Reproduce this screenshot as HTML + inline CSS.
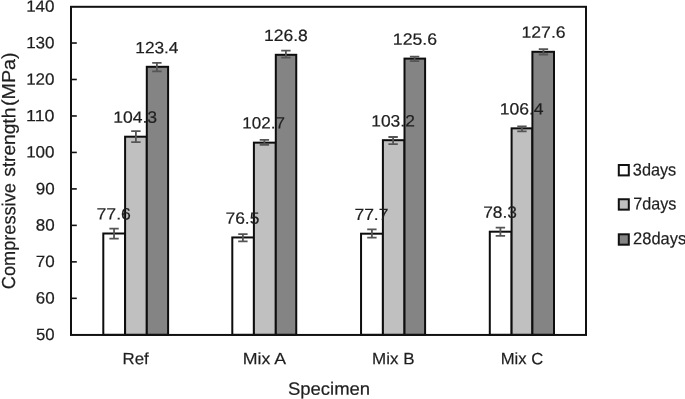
<!DOCTYPE html>
<html><head><meta charset="utf-8"><title>Compressive strength</title>
<style>
html,body{margin:0;padding:0;background:#fff;}
body{width:685px;height:399px;overflow:hidden;}
svg{display:block;}
text{font-family:"Liberation Sans", Arial, sans-serif;fill:#1e1e1e;stroke:#1e1e1e;stroke-width:0.2px;}
</style></head><body>
<svg width="685" height="399" viewBox="0 0 685 399">
<rect width="685" height="399" fill="#fff"/>
<rect x="103.30" y="233.50" width="21.80" height="101.30" fill="#ffffff" stroke="#0d0d0d" stroke-width="2.0"/>
<rect x="125.10" y="136.70" width="21.70" height="198.10" fill="#c0c0c0" stroke="#0d0d0d" stroke-width="2.0"/>
<rect x="146.80" y="66.80" width="21.30" height="268.00" fill="#848484" stroke="#0d0d0d" stroke-width="2.0"/>
<rect x="232.30" y="237.45" width="21.60" height="97.35" fill="#ffffff" stroke="#0d0d0d" stroke-width="2.0"/>
<rect x="253.90" y="142.65" width="21.90" height="192.15" fill="#c0c0c0" stroke="#0d0d0d" stroke-width="2.0"/>
<rect x="275.80" y="54.80" width="20.45" height="280.00" fill="#848484" stroke="#0d0d0d" stroke-width="2.0"/>
<rect x="361.05" y="233.70" width="21.85" height="101.10" fill="#ffffff" stroke="#0d0d0d" stroke-width="2.0"/>
<rect x="382.90" y="140.20" width="21.60" height="194.60" fill="#c0c0c0" stroke="#0d0d0d" stroke-width="2.0"/>
<rect x="404.50" y="58.60" width="20.60" height="276.20" fill="#848484" stroke="#0d0d0d" stroke-width="2.0"/>
<rect x="489.80" y="231.70" width="21.80" height="103.10" fill="#ffffff" stroke="#0d0d0d" stroke-width="2.0"/>
<rect x="511.60" y="128.35" width="20.80" height="206.45" fill="#c0c0c0" stroke="#0d0d0d" stroke-width="2.0"/>
<rect x="532.40" y="51.80" width="21.60" height="283.00" fill="#848484" stroke="#0d0d0d" stroke-width="2.0"/>
<path d="M114.05 228.65V238.70M109.35 228.65H118.75M109.35 238.70H118.75" fill="none" stroke="#555" stroke-width="1.8"/>
<path d="M135.90 131.10V142.05M131.20 131.10H140.60M131.20 142.05H140.60" fill="none" stroke="#555" stroke-width="1.8"/>
<path d="M156.90 62.80V71.30M152.20 62.80H161.60M152.20 71.30H161.60" fill="none" stroke="#555" stroke-width="1.8"/>
<path d="M242.90 234.15V241.40M238.20 234.15H247.60M238.20 241.40H247.60" fill="none" stroke="#555" stroke-width="1.8"/>
<path d="M264.40 139.90V144.95M259.70 139.90H269.10M259.70 144.95H269.10" fill="none" stroke="#555" stroke-width="1.8"/>
<path d="M285.90 50.70V57.60M281.20 50.70H290.60M281.20 57.60H290.60" fill="none" stroke="#555" stroke-width="1.8"/>
<path d="M371.90 229.30V237.70M367.20 229.30H376.60M367.20 237.70H376.60" fill="none" stroke="#555" stroke-width="1.8"/>
<path d="M393.10 137.00V144.20M388.40 137.00H397.80M388.40 144.20H397.80" fill="none" stroke="#555" stroke-width="1.8"/>
<path d="M414.60 56.65V61.20M409.90 56.65H419.30M409.90 61.20H419.30" fill="none" stroke="#555" stroke-width="1.8"/>
<path d="M500.40 227.60V235.80M495.70 227.60H505.10M495.70 235.80H505.10" fill="none" stroke="#555" stroke-width="1.8"/>
<path d="M521.95 126.40V131.40M517.25 126.40H526.65M517.25 131.40H526.65" fill="none" stroke="#555" stroke-width="1.8"/>
<path d="M543.45 49.10V54.50M538.75 49.10H548.15M538.75 54.50H548.15" fill="none" stroke="#555" stroke-width="1.8"/>
<rect x="71.0" y="6.8" width="515.0" height="328.15" fill="none" stroke="#111" stroke-width="2"/>
<line x1="71.0" y1="43.02" x2="76.8" y2="43.02" stroke="#111" stroke-width="1.6"/>
<line x1="71.0" y1="79.49" x2="76.8" y2="79.49" stroke="#111" stroke-width="1.6"/>
<line x1="71.0" y1="115.97" x2="76.8" y2="115.97" stroke="#111" stroke-width="1.6"/>
<line x1="71.0" y1="152.44" x2="76.8" y2="152.44" stroke="#111" stroke-width="1.6"/>
<line x1="71.0" y1="188.91" x2="76.8" y2="188.91" stroke="#111" stroke-width="1.6"/>
<line x1="71.0" y1="225.38" x2="76.8" y2="225.38" stroke="#111" stroke-width="1.6"/>
<line x1="71.0" y1="261.86" x2="76.8" y2="261.86" stroke="#111" stroke-width="1.6"/>
<line x1="71.0" y1="298.33" x2="76.8" y2="298.33" stroke="#111" stroke-width="1.6"/>
<text transform="translate(96.52 219.60) rotate(0.03) scale(1.0817 1)" font-size="16.35">77.6</text>
<text transform="translate(113.17 122.70) rotate(0.03) scale(1.0742 1)" font-size="16.35">104.3</text>
<text transform="translate(135.29 53.25) rotate(0.03) scale(1.0564 1)" font-size="16.35">123.4</text>
<text transform="translate(225.42 223.70) rotate(0.03) scale(1.0705 1)" font-size="16.35">76.5</text>
<text transform="translate(242.36 128.45) rotate(0.03) scale(1.0391 1)" font-size="16.35">102.7</text>
<text transform="translate(263.97 41.00) rotate(0.03) scale(1.0741 1)" font-size="16.35">126.8</text>
<text transform="translate(354.42 219.95) rotate(0.03) scale(1.0692 1)" font-size="16.35">77.7</text>
<text transform="translate(371.28 126.45) rotate(0.03) scale(1.0641 1)" font-size="16.35">103.2</text>
<text transform="translate(392.81 44.70) rotate(0.03) scale(1.0818 1)" font-size="16.35">125.6</text>
<text transform="translate(483.22 217.80) rotate(0.03) scale(1.0610 1)" font-size="16.35">78.3</text>
<text transform="translate(499.67 114.60) rotate(0.03) scale(1.0754 1)" font-size="16.35">106.4</text>
<text transform="translate(521.47 37.85) rotate(0.03) scale(1.0805 1)" font-size="16.35">127.6</text>
<text transform="translate(122.57 364.15) rotate(0.03) scale(1.0283 1)" font-size="16.4">Ref</text>
<text transform="translate(242.81 364.15) rotate(0.03) scale(1.0822 1)" font-size="16.4">Mix A</text>
<text transform="translate(372.01 364.15) rotate(0.03) scale(1.0357 1)" font-size="16.4">Mix B</text>
<text transform="translate(500.73 364.15) rotate(0.03) scale(1.0166 1)" font-size="16.4">Mix C</text>
<text transform="translate(287.94 394.65) rotate(0.03) scale(1.0394 1)" font-size="17.8">Specimen</text>
<text transform="translate(632.84 175.40) rotate(0.03) scale(0.9466 1)" font-size="17.2">3days</text>
<text transform="translate(633.24 209.60) rotate(0.03) scale(0.9379 1)" font-size="17.2">7days</text>
<text transform="translate(633.10 244.35) rotate(0.03) scale(0.9575 1)" font-size="17.2">28days</text>
<text transform="translate(26.15 11.75) rotate(0.03) scale(1.0415 1)" font-size="16.35">140</text>
<text transform="translate(26.15 48.14) rotate(0.03) scale(1.0415 1)" font-size="16.35">130</text>
<text transform="translate(26.15 84.78) rotate(0.03) scale(1.0415 1)" font-size="16.35">120</text>
<text transform="translate(26.10 121.17) rotate(0.03) scale(1.0922 1)" font-size="16.35">110</text>
<text transform="translate(26.15 157.56) rotate(0.03) scale(1.0415 1)" font-size="16.35">100</text>
<text transform="translate(35.70 194.19) rotate(0.03) scale(1.0389 1)" font-size="16.35">90</text>
<text transform="translate(35.71 230.58) rotate(0.03) scale(1.0378 1)" font-size="16.35">80</text>
<text transform="translate(35.70 266.97) rotate(0.03) scale(1.0389 1)" font-size="16.35">70</text>
<text transform="translate(35.70 303.61) rotate(0.03) scale(1.0389 1)" font-size="16.35">60</text>
<text transform="translate(35.97 340.00) rotate(0.03) scale(1.0232 1)" font-size="16.35">50</text>
<text transform="translate(15.10 289.21) rotate(-89.97) scale(0.9677 1)" font-size="18.8">Compressive</text>
<text transform="translate(15.10 176.86) rotate(-89.97) scale(1.0186 1)" font-size="18.8">strength</text>
<text transform="translate(15.10 106.00) rotate(-89.97) scale(1.0470 1)" font-size="18.8">(MPa)</text>
<rect x="618.8" y="165.00" width="10.0" height="10.4" fill="#ffffff" stroke="#111" stroke-width="2"/>
<rect x="618.8" y="199.25" width="10.0" height="10.4" fill="#c0c0c0" stroke="#111" stroke-width="2"/>
<rect x="618.8" y="234.30" width="10.0" height="10.4" fill="#848484" stroke="#111" stroke-width="2"/>
</svg></body></html>
